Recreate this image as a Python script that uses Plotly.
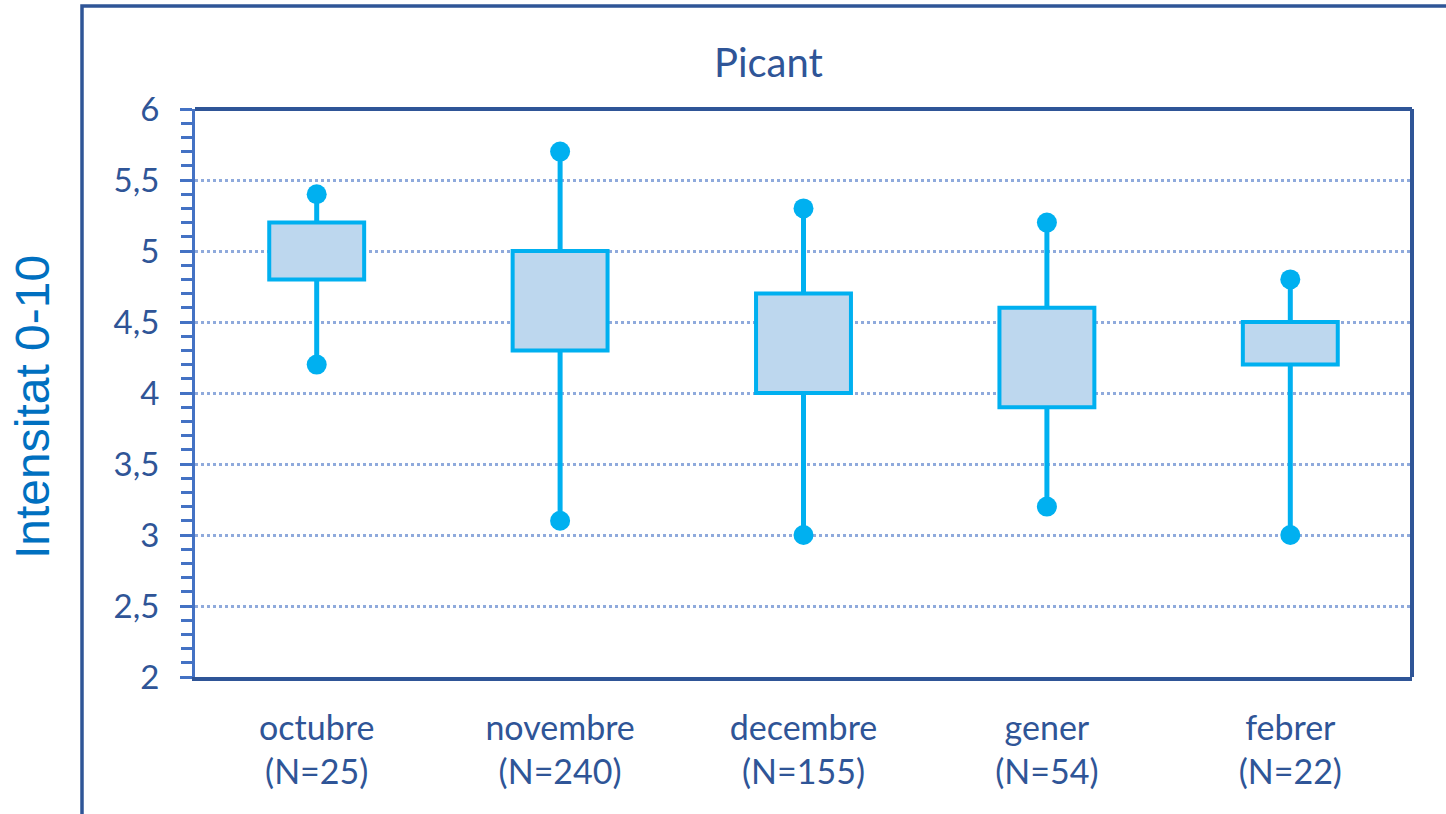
import plotly.graph_objects as go

months = ["octubre", "novembre", "decembre", "gener", "febrer"]
counts = [25, 240, 155, 54, 22]
whisker_low = [4.2, 3.1, 3.0, 3.2, 3.0]
q1 = [4.8, 4.3, 4.0, 3.9, 4.2]
q3 = [5.2, 5.0, 4.7, 4.6, 4.5]
whisker_high = [5.4, 5.7, 5.3, 5.2, 4.8]
y_ticks = [2, 2.5, 3, 3.5, 4, 4.5, 5, 5.5, 6]

labels = [f"{m}<br>(N={n})" for m, n in zip(months, counts)]

W, H = 1446, 814
# plot area in screen pixels
L, R, T, B = 195, 1412, 109, 677
pw, ph = R - L, B - T

def px_x(x):
    return (x - L) / pw

def px_y(y):
    return (B - y) / ph

BOX_LINE = "#00b0f0"
BOX_FILL = "#bdd7ee"
DARK = "#2f5597"
AXIS = "#4472c4"
GRID = "#8faadc"
TEXT = "#2f5597"
FONT = "Lato"

fig = go.Figure()

# whiskers (segments outside box)
wx, wy = [], []
for lab, lo, a, b, hi in zip(labels, whisker_low, q1, q3, whisker_high):
    wx += [lab, lab, None, lab, lab, None]
    wy += [b, hi, None, lo, a, None]
fig.add_trace(go.Scatter(x=wx, y=wy, mode="lines",
                         line=dict(color=BOX_LINE, width=5),
                         hoverinfo="skip", showlegend=False))

# boxes
fig.add_trace(go.Bar(x=labels, y=[b - a for a, b in zip(q1, q3)], base=q1,
                     width=0.39,
                     marker=dict(color=BOX_FILL, line=dict(color=BOX_LINE, width=4)),
                     showlegend=False))

# whisker end dots
fig.add_trace(go.Scatter(x=labels + labels, y=whisker_high + whisker_low,
                         mode="markers",
                         marker=dict(color=BOX_LINE, size=20, line=dict(width=0)),
                         showlegend=False))

# plot area right/top border and outer frame
fig.add_shape(type="line", xref="paper", yref="paper", x0=1, x1=1, y0=0, y1=1,
              line=dict(color=DARK, width=4))
fig.add_shape(type="line", xref="paper", yref="paper", x0=0, x1=1, y0=1, y1=1,
              line=dict(color=DARK, width=4))
fig.add_shape(type="rect", xref="paper", yref="paper",
              x0=px_x(82), x1=px_x(1470), y0=px_y(840), y1=px_y(6),
              line=dict(color=DARK, width=3.5), fillcolor="rgba(0,0,0,0)")

fig.add_annotation(text="Picant", xref="paper", yref="paper",
                   x=px_x(768), y=px_y(62), xanchor="center", yanchor="middle",
                   showarrow=False, font=dict(family=FONT, size=40, color=TEXT))

fig.add_annotation(text="Intensitat 0-10", xref="paper", yref="paper",
                   x=px_x(32), y=px_y(407), xanchor="center", yanchor="middle",
                   textangle=-90, showarrow=False,
                   font=dict(family="Liberation Sans, Arial", size=48, color="#0070c0"))

fig.update_layout(
    width=W, height=H,
    margin=dict(l=L, r=W - R, t=T, b=H - B),
    paper_bgcolor="white", plot_bgcolor="white",
    separators=", ",
    font=dict(family=FONT, color=TEXT),
)

fig.update_xaxes(
    type="category", range=[-0.5, 4.5],
    showline=True, linecolor=DARK, linewidth=4,
    showgrid=False, zeroline=False,
    ticks="", tickfont=dict(family=FONT, size=34, color=TEXT),
    ticklabelstandoff=18,
)

fig.update_yaxes(
    range=[2, 6], tickvals=y_ticks,
    showline=True, linecolor=AXIS, linewidth=3,
    ticks="outside", ticklen=12, tickwidth=3, tickcolor=AXIS,
    showgrid=True, gridcolor=GRID, gridwidth=3, griddash="dot",
    zeroline=False,
    minor=dict(dtick=0.1, tick0=2, ticks="outside", ticklen=11, tickwidth=3,
               tickcolor=AXIS, showgrid=False),
    tickfont=dict(family=FONT, size=33, color=TEXT),
    ticklabelstandoff=14,
)

fig.write_html("out.html",
               config={"displayModeBar": False},
               post_script="document.body.style.margin='0';document.body.style.overflow='hidden';")
